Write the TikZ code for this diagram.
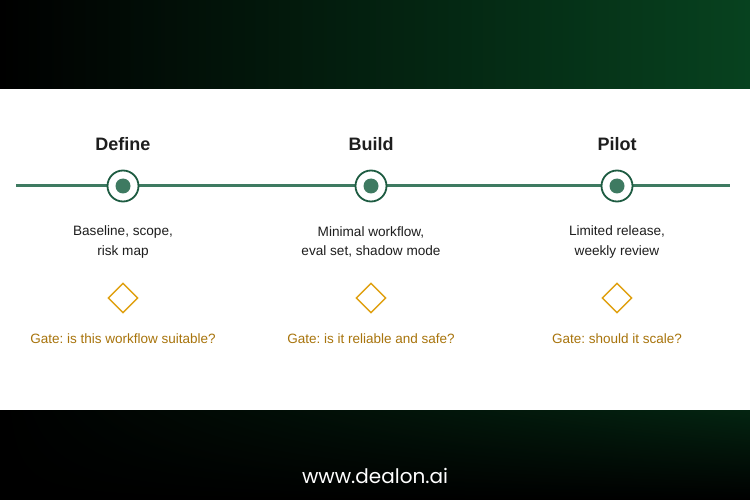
\documentclass[tikz,border=0pt]{standalone}
\usepackage{fontspec}
\setmainfont{Liberation Sans}
\newfontfamily\sitefont{Poppins}
\usetikzlibrary{shapes.geometric,shadings,positioning}
\frenchspacing
\definecolor{phasegreen}{HTML}{3E7A61}
\definecolor{ringgreen}{HTML}{1E5C42}
\definecolor{gategold}{HTML}{E0A010}
\definecolor{gatetext}{HTML}{A8740C}
\definecolor{bandgreen}{HTML}{07421F}
\definecolor{inktext}{HTML}{1E1E1E}
\tikzset{
  phasetitle/.style={font=\fontsize{18}{21}\selectfont\bfseries, text=inktext},
  phasering/.style={circle, draw=ringgreen, line width=1.8pt, fill=white,
    minimum size=31pt, inner sep=0pt},
  phasedot/.style={circle, fill=phasegreen, minimum size=15pt, inner sep=0pt},
  phasenote/.style={font=\fontsize{13.6}{19.5}\selectfont, text=inktext, align=center},
  gatemark/.style={diamond, draw=gategold, line width=1.4pt, fill=white,
    minimum size=30pt, inner sep=0pt},
  gatenote/.style={font=\fontsize{13.5}{16}\selectfont, text=gatetext},
}
\begin{document}
\begin{tikzpicture}[x=1pt,y=-1pt]
\useasboundingbox (0,0) rectangle (750,500);
% bands
\shade[left color=black, middle color=bandgreen!60!black, right color=bandgreen] (0,0) rectangle (750,89);
\fill[white] (0,89) rectangle (750,410);
\shade[upper left=black, upper right=bandgreen!55!black, lower left=black, lower right=black]
  (0,410) rectangle (750,500);
% timeline
\coordinate (lineStart) at (16,186);
\coordinate (lineEnd) at (730,186);
\draw[phasegreen, line width=3pt] (lineStart) -- (lineEnd);
% phases
\foreach \px/\pname/\ptitle/\pnote/\pgate in {
  123/define/Define/{Baseline, scope,\\risk map}/{Gate: is this workflow suitable?},
  371/build/Build/{Minimal workflow,\\eval set, shadow mode}/{Gate: is it reliable and safe?},
  617/pilot/Pilot/{Limited release,\\weekly review}/{Gate: should it scale?}}{
  \node[phasering] (ring-\pname) at (\px,186) {};
  \node[phasedot] (dot-\pname) at (ring-\pname) {};
  \node[phasetitle] (title-\pname) at (\px,144) {\ptitle};
  \node[phasenote] (note-\pname) at (\px,242) {\pnote};
  \node[gatemark] (gate-\pname) at (\px,298) {};
  \node[gatenote] (gatenote-\pname) at (\px,339) {\pgate};
}
% footer
\node[text=white, font=\sitefont\fontsize{20}{24}\selectfont] (site) at (375,476) {www.dealon.ai};
\end{tikzpicture}
\end{document}
